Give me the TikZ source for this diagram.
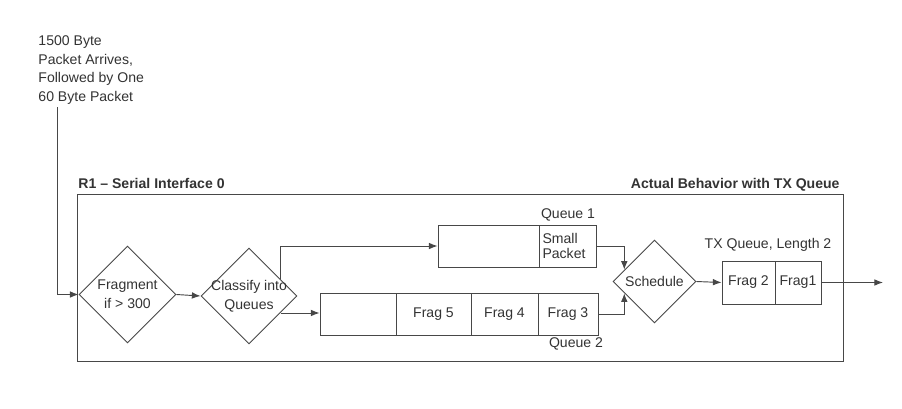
\documentclass[tikz,border=0pt]{standalone}
\usepackage{fontspec}
\setmainfont{Liberation Sans}
\usepackage{tikz}
\usetikzlibrary{arrows.meta,shapes.geometric,calc}

\begin{document}
\begin{tikzpicture}[x=0.03cm,y=-0.03cm,>={Latex[length=2.6mm,width=2mm]},
  font=\fontsize{12}{16}\selectfont,line width=0.8pt,draw=black!72,text=black!80,
  dia/.style={diamond,draw,aspect=1,inner sep=-6pt,align=center},
  cell/.style={draw,inner sep=0,minimum height=1.26cm,align=left},
  title/.style={font=\fontsize{12}{14}\selectfont\bfseries,inner sep=0}]
\useasboundingbox (0,0) rectangle (902,408);
\node[anchor=north west,align=left,inner sep=0] (intro) at (38,35) {1500 Byte\\Packet Arrives,\\Followed by One\\60 Byte Packet};
\coordinate (src) at (57,107);
\node[draw,inner sep=0,minimum width=22.98cm,minimum height=5.01cm] (frame) at (460,277.5) {};
\node[title,anchor=base west] (r1) at (78,188) {R1 -- Serial Interface 0};
\node[title,anchor=base east] (actual) at (840,188) {Actual Behavior with TX Queue};
\node[dia,minimum width=2.91cm,minimum height=2.91cm] (frag) at (127.5,294.5) {Fragment\\if > 300};
\node[dia,minimum width=2.88cm,minimum height=2.88cm] (classify) at (249,296) {Classify into\\Queues};
\node[cell,minimum width=3.03cm] (q1a) at (488.5,246) {};
\node[cell,minimum width=1.71cm,text width=1.5cm,font=\fontsize{12}{13}\selectfont] (q1b) at (567.5,246) {Small\\Packet};
\node[cell,minimum width=2.28cm] (q2a) at (358,314) {};
\node[cell,minimum width=2.25cm] (q2b) at (433.5,314) {Frag 5};
\node[cell,minimum width=2.01cm] (q2c) at (504.5,314) {Frag 4};
\node[cell,minimum width=1.8cm] (q2d) at (568,314) {Frag 3};
\node[inner sep=0] (q1lbl) at (568,215) {Queue 1};
\node[inner sep=0] (q2lbl) at (576,344) {Queue 2};
\node[dia,minimum width=2.49cm,minimum height=2.49cm] (sched) at (654.5,281.5) {Schedule};
\node[cell,minimum width=1.59cm,minimum height=1.29cm] (tx1) at (748.5,282.5) {Frag 2};
\node[cell,minimum width=1.38cm,minimum height=1.29cm] (tx2) at (798,282.5) {Frag1};
\node[inner sep=0] (txlbl) at (768,245) {TX Queue, Length 2};
\coordinate (out) at (883,282.5);
\draw[->] (src) |- (frag.west);
\draw[->] (frag.east) -- (classify.west);
\draw[->] ($(classify.north)!0.65!(classify.east)$) |- (q1a.west);
\draw[->] ($(classify.east)!0.35!(classify.south)$) -- (q2a.west |- {$(classify.east)!0.35!(classify.south)$});
\draw[->] (q1b.east) -| ($(sched.west)!0.28!(sched.north)$);
\draw[->] (q2d.east) -| ($(sched.west)!0.28!(sched.south)$);
\draw[->] (sched.east) -- (tx1.west);
\draw[->] (tx2.east) -- (out);
\end{tikzpicture}
\end{document}
